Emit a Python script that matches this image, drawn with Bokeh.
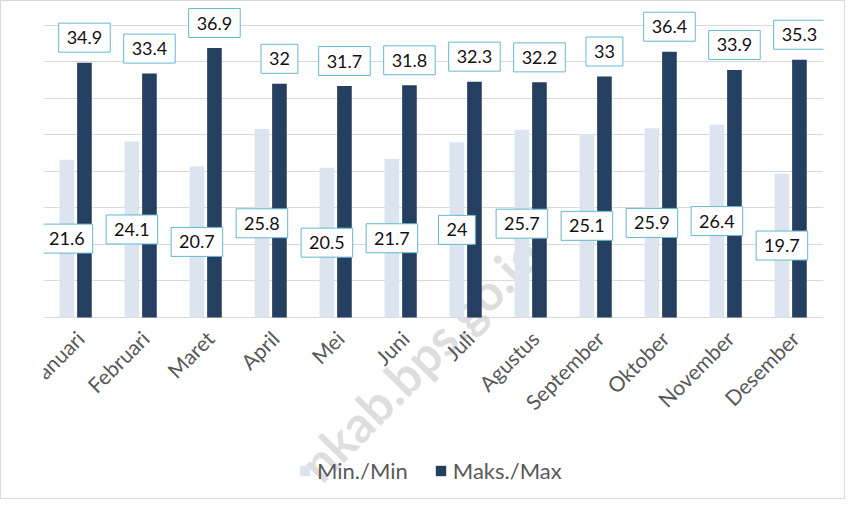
import math
from bokeh.plotting import figure
from bokeh.models import (ColumnDataSource, FactorRange, Range1d, Legend,
                          LegendItem, FixedTicker, Label)
from bokeh.transform import dodge
from bokeh.core.properties import value
from bokeh.embed import file_html
from bokeh.resources import INLINE

# ---- data ----
months = ["Januari", "Februari", "Maret", "April", "Mei", "Juni", "Juli",
          "Agustus", "September", "Oktober", "November", "Desember"]
min_vals = [21.6, 24.1, 20.7, 25.8, 20.5, 21.7, 24, 25.7, 25.1, 25.9, 26.4, 19.7]
max_vals = [34.9, 33.4, 36.9, 32, 31.7, 31.8, 32.3, 32.2, 33, 36.4, 33.9, 35.3]
y_ticks = [0, 5, 10, 15, 20, 25, 30, 35, 40]
series_names = ["Min./Min", "Maks./Max"]
watermark_text = "nkab.bps.go.id"

FONT = "Lato"
C_MIN = "#DCE4F0"
C_MAX = "#253F60"
C_BOX = "#63B8D0"

src = ColumnDataSource(dict(
    month=months,
    mn=min_vals,
    mx=max_vals,
    mn_mid=[v / 2 for v in min_vals],
    mn_lbl=[f"{v:g}" for v in min_vals],
    mx_lbl=[f"{v:g}" for v in max_vals],
))

p = figure(frame_width=780, frame_height=493, x_range=FactorRange(*months),
           y_range=Range1d(-24.52, 43.0), y_axis_location=None, x_axis_location=None,
           output_backend="svg", toolbar_location=None,
           min_border_left=42, min_border_right=21, min_border_top=2,
           min_border_bottom=2)
p.outline_line_color = None
p.background_fill_color = "white"
p.border_fill_color = "white"
p.styles = {"border": "1px solid #D9D9D9", "box-sizing": "border-box"}

# watermark (behind the bars)
p.add_layout(Label(x=5.8, y=-5.6, text=watermark_text, angle=45.5, angle_units="deg",
                   text_align="center", text_baseline="middle",
                   text_font=FONT, text_font_style="bold",
                   text_font_size="50px", text_color="#D0D0D0", text_alpha=0.7,
                   level="underlay"))

r_min = p.vbar(x=dodge("month", -0.14, range=p.x_range), top="mn", bottom=0,
               width=0.225, source=src, fill_color=C_MIN, line_color=None)
r_max = p.vbar(x=dodge("month", 0.13, range=p.x_range), top="mx", bottom=0,
               width=0.225, source=src, fill_color=C_MAX, line_color=None)

common = dict(source=src, text_align="center", text_baseline="middle",
              text_font=value(FONT), text_font_size="18px", text_color="#111111",
              background_fill_color="white", border_line_color=C_BOX,
              border_line_width=1, padding=8)
p.text(x=dodge("month", -0.14, range=p.x_range), y="mn_mid", text="mn_lbl", **common)
p.text(x=dodge("month", 0.13, range=p.x_range), y="mx", text="mx_lbl", y_offset=-25,
       **common)

# category labels along the baseline, rotated 45 degrees
p.text(x="month", y=0, text="month", source=src, angle=45, angle_units="deg",
       text_align="right", text_baseline="middle", x_offset=4, y_offset=17,
       text_font=value(FONT), text_font_size="21px", text_color="#595959")

p.ygrid.ticker = FixedTicker(ticks=y_ticks)
p.ygrid.grid_line_color = "#D9D9D9"
p.ygrid.grid_line_width = 1
p.xgrid.grid_line_color = None

legend = Legend(items=[LegendItem(label=series_names[0], renderers=[r_min]),
                       LegendItem(label=series_names[1], renderers=[r_max])],
                orientation="horizontal", location=(255, 12),
                border_line_color=None, background_fill_alpha=0,
                label_text_font=FONT, label_text_font_size="22px",
                label_text_color="#595959", glyph_width=13, glyph_height=13,
                spacing=26, label_standoff=6, padding=0, margin=0)
p.add_layout(legend, "center")

open("out.html", "w").write(file_html(p, INLINE))
